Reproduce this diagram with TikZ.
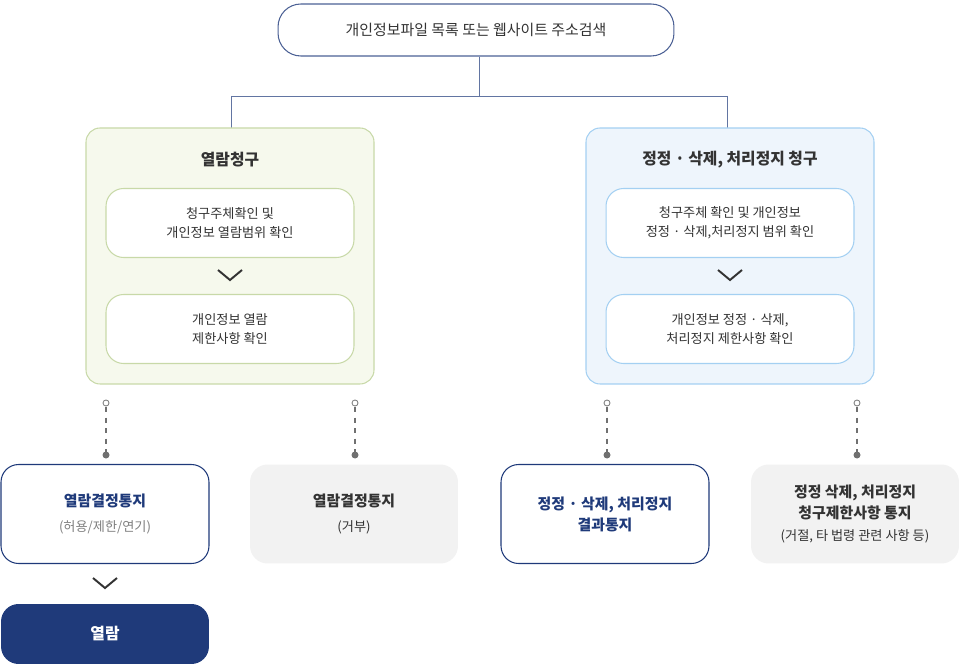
\documentclass[tikz,border=0pt]{standalone}
\usepackage{fontspec}
\setmainfont{Noto Sans CJK KR}
\usetikzlibrary{positioning}
\definecolor{navy}{RGB}{31,58,122}
\definecolor{txt}{RGB}{51,51,51}
\definecolor{greenbg}{RGB}{246,249,237}
\definecolor{greenln}{RGB}{200,217,168}
\definecolor{bluebg}{RGB}{238,245,252}
\definecolor{blueln}{RGB}{164,208,242}
\definecolor{greybg}{RGB}{242,242,242}
\tikzset{
  panel/.style={rounded corners=8pt, draw, line width=0.6pt},
  inbox/.style={rounded corners=10pt, draw, fill=white, line width=0.6pt, minimum width=4.96cm, minimum height=1.38cm, align=center, font=\fontsize{7.5}{11}\selectfont, text=txt},
  resbox/.style={rounded corners=10pt, minimum width=4.16cm, minimum height=1.98cm, align=center, font=\fontsize{8.5}{12}\selectfont},
  chev/.style={line width=1.1pt, txt},
  link/.style={navy!70, line width=0.5pt}
}
\begin{document}
\begin{tikzpicture}[x=0.02cm,y=-0.02cm]
\useasboundingbox (0,0) rectangle (960,665);
% top
\node[draw=navy!80, line width=0.6pt, rounded corners=13pt, minimum width=7.92cm, minimum height=1.04cm, font=\fontsize{8.5}{12}\selectfont, text=txt] (top) at (476,30) {개인정보파일 목록 또는 웹사이트 주소검색};
\coordinate (mid) at (479,96);
\coordinate (ml) at (231,96);
\coordinate (mr) at (727,96);
\draw[link] (top.south -| mid) -- (mid);
\draw[link] (ml) -- (mr);
\draw[link] (ml) -- (231,128);
\draw[link] (mr) -- (727,128);
% panels
\draw[panel, draw=greenln, fill=greenbg] (86,128) rectangle (374,384);
\draw[panel, draw=blueln, fill=bluebg] (586,128) rectangle (874,384);
\node[font=\bfseries\fontsize{9}{12}\selectfont, text=txt] (lt) at (230,160) {열람청구};
\node[font=\bfseries\fontsize{9}{12}\selectfont, text=txt] (rt) at (730,160) {정정 · 삭제, 처리정지 청구};
\node[inbox, draw=greenln] (l1) at (230,223) {청구주체확인 및\\개인정보 열람범위 확인};
\node[inbox, draw=greenln] (l2) at (230,329) {개인정보 열람\\제한사항 확인};
\node[inbox, draw=blueln] (r1) at (730,223) {청구주체 확인 및 개인정보\\정정 · 삭제,처리정지 범위 확인};
\node[inbox, draw=blueln] (r2) at (730,329) {개인정보 정정 · 삭제,\\처리정지 제한사항 확인};
\foreach \cx in {230,730}
  \draw[chev] (\cx-12,270) -- (\cx,280) -- (\cx+12,270);
% dotted links
\foreach \dx/\nm in {106/a,355/b,607/c,857/d}{
  \draw[gray, line width=0.5pt, fill=white] (\dx,403) circle (3);
  \draw[txt!70, dashed, line width=1pt] (\dx,407) -- (\dx,453);
  \fill[txt!70] (\dx,455) circle (3.5);
}
% results
\node[resbox, draw=navy, line width=0.6pt, fill=white] (n1) at (105,514) {\textcolor{navy}{\bfseries 열람결정통지}\\[2pt]\textcolor{gray}{\fontsize{7.5}{10}\selectfont (허용/제한/연기)}};
\node[resbox, fill=greybg] (n2) at (354,514) {\textcolor{txt}{\bfseries 열람결정통지}\\[2pt]\textcolor{txt}{\fontsize{7.5}{10}\selectfont (거부)}};
\node[resbox, draw=navy, line width=0.6pt, fill=white, text=navy, font=\bfseries\fontsize{8.5}{12}\selectfont] (n3) at (605,514) {정정 · 삭제, 처리정지\\결과통지};
\node[resbox, fill=greybg] (n4) at (855,514) {\textcolor{txt}{\bfseries 정정 삭제, 처리정지}\\\textcolor{txt}{\bfseries 청구제한사항 통지}\\[1pt]\textcolor{txt}{\fontsize{7.5}{10}\selectfont (거절, 타 법령 관련 사항 등)}};
\draw[chev] (93,578) -- (105,588) -- (117,578);
\node[rounded corners=10pt, fill=navy, minimum width=4.16cm, minimum height=1.2cm, text=white, font=\bfseries\fontsize{9}{12}\selectfont] (fin) at (105,634) {열람};
\end{tikzpicture}
\end{document}
